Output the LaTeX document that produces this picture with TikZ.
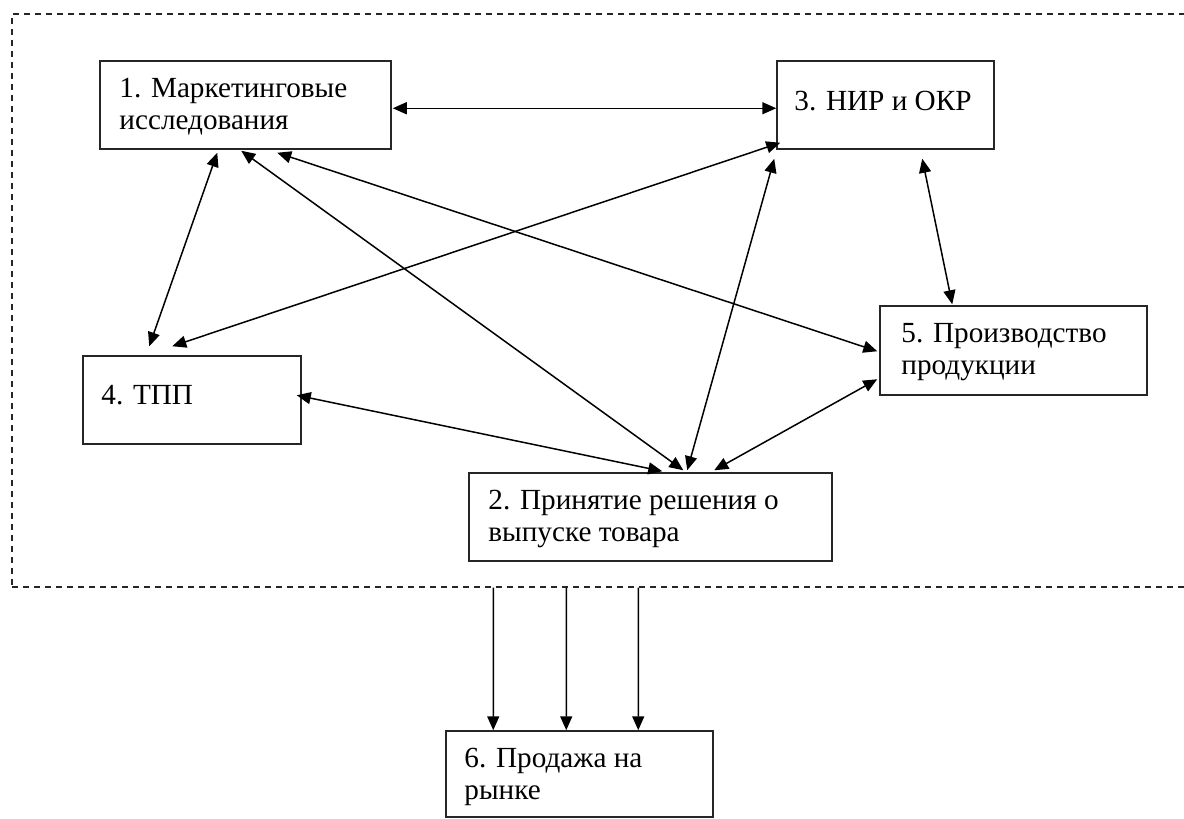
\documentclass[tikz,border=0pt]{standalone}
\usepackage{fontspec}
\setmainfont{Liberation Serif}
\usetikzlibrary{arrows.meta,calc}
\begin{document}
\begin{tikzpicture}[x=1pt,y=-1pt,
  box/.style={draw=black!85, line width=1.5pt, rectangle, inner sep=0pt, fill=white},
  txt/.style={inner sep=0pt, anchor=base west, align=left, font=\fontsize{29.2}{32}\selectfont},
  link/.style={line width=1.5pt, {Triangle[length=14pt,width=12pt]}-{Triangle[length=14pt,width=12pt]}},
  down/.style={line width=1.5pt, -{Triangle[length=14pt,width=12pt]}},
  frm/.style={draw=black!85, line width=1.4pt, dash pattern=on 6pt off 5pt, inner sep=0pt}]
\clip (0,0) rectangle (1184,819);
\fill[white] (0,0) rectangle (1184,819);
% frame
\node[frm, minimum width=1180pt, minimum height=573pt] (frame) at (602,300.5) {};
% boxes
\node[box, minimum width=291pt, minimum height=88pt] (b1) at (245.5,105) {};
\node[box, minimum width=217pt, minimum height=88pt] (b3) at (885.5,105) {};
\node[box, minimum width=218pt, minimum height=88pt] (b4) at (192,400) {};
\node[box, minimum width=267pt, minimum height=89pt] (b5) at (1013.5,350.5) {};
\node[box, minimum width=363pt, minimum height=88pt] (b2) at (650.5,517) {};
\node[box, minimum width=267pt, minimum height=86pt] (b6) at (579.5,774) {};
% texts (anchor = baseline of last line)
\node[txt] (t1) at ($(b1.north west)+(20,69)$) {1. Маркетинговые\\исследования};
\node[txt] (t3) at ($(b3.north west)+(18,50)$) {3. НИР и ОКР};
\node[txt] (t4) at ($(b4.north west)+(19,49)$) {4. ТПП};
\node[txt] (t5) at ($(b5.north west)+(22,69)$) {5. Производство\\продукции};
\node[txt] (t2) at ($(b2.north west)+(20,69)$) {2. Принятие решения о\\выпуске товара};
\node[txt] (t6) at ($(b6.north west)+(19,69)$) {6. Продажа на\\рынке};
% connectors
\draw[link] ($(b1.north east)+(1,48)$) -- ($(b3.north west)+(0,48)$);
\draw[link] ($(b1.south west)+(118,3)$) -- ($(b4.north west)+(67,-9)$);
\draw[link] ($(b1.south west)+(142,1)$) -- ($(b2.north west)+(215,-2)$);
\draw[link] ($(b1.south west)+(178,3)$) -- ($(b5.north west)+(-2,46)$);
\draw[link] ($(b3.south west)+(4,-7)$) -- ($(b4.north west)+(90,-9)$);
\draw[link] ($(b3.south west)+(-2,9)$) -- ($(b2.north west)+(219,-2)$);
\draw[link] ($(b3.south west)+(146,9)$) -- ($(b5.north west)+(73,-1)$);
\draw[link] ($(b4.north east)+(-5,40)$) -- ($(b2.north west)+(194,-1)$);
\draw[link] ($(b5.north west)+(-2,74)$) -- ($(b2.north west)+(246,-2)$);
\draw[down] ($(frame.south west)+(482,0)$) -- ($(b6.north west)+(48,0)$);
\draw[down] ($(frame.south west)+(555,0)$) -- ($(b6.north west)+(121,0)$);
\draw[down] ($(frame.south west)+(627,0)$) -- ($(b6.north west)+(193,0)$);
\end{tikzpicture}
\end{document}
